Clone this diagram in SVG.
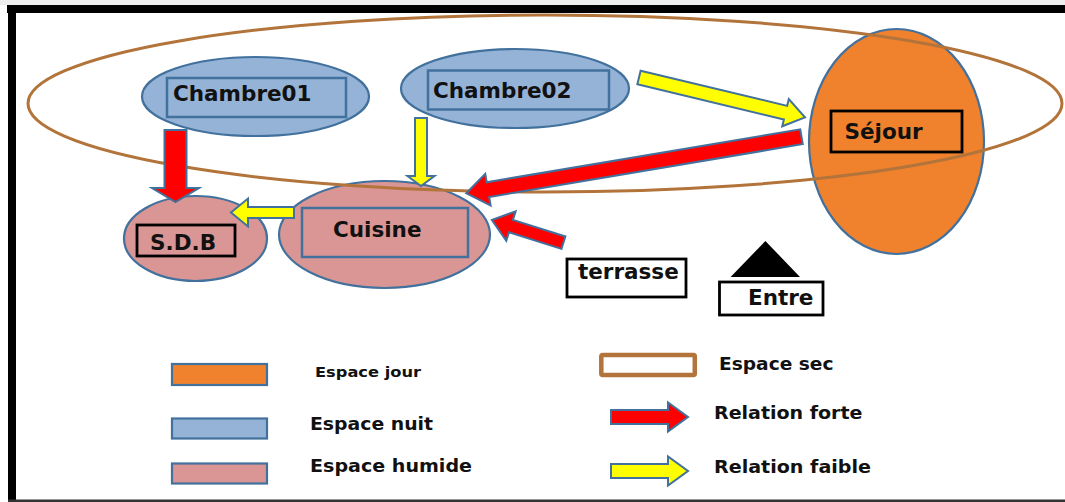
<svg xmlns="http://www.w3.org/2000/svg" width="1065" height="502" viewBox="0 0 1065 502">
<style>
.nuit{fill:#95B3D7;stroke:#41719C;stroke-width:2.2}
.humide{fill:#D99694;stroke:#41719C;stroke-width:2.2}
.jour{fill:#F0822E;stroke:#41719C;stroke-width:2.2}
.bbox{fill:none;stroke:#41719C;stroke-width:2.5}
.kbox{fill:none;stroke:#000;stroke-width:2.8}
.wbox{fill:#fff;stroke:#000;stroke-width:2.8}
.lbl{font-family:"DejaVu Sans",Verdana,sans-serif;font-weight:bold;font-size:21.5px;fill:#111}
.leg{font-family:"DejaVu Sans",Verdana,sans-serif;font-weight:bold;font-size:17px;fill:#111}
.strong{fill:#FF0000;stroke:#41719C;stroke-width:2}
.weak{fill:#FFFF00;stroke:#41719C;stroke-width:2}
.sec{fill:none;stroke:#B2743A;stroke-width:3}
</style>
<rect x="0" y="0" width="1065" height="502" fill="#fff"/>
<rect x="0" y="0" width="1065" height="5" fill="#eee"/>
<g id="frame">
<rect x="7" y="5" width="1058" height="8" fill="#000"/>
<rect x="8" y="5" width="8" height="497" fill="#000"/>
<rect x="8" y="499.5" width="1057" height="2.5" fill="#333"/>
</g>
<g id="chambre01">
<ellipse class="nuit" cx="255.5" cy="96.5" rx="113.5" ry="39.5"/>
<rect class="bbox" x="167" y="78" width="179" height="39"/>
<text class="lbl" x="173" y="101">Chambre01</text>
</g>
<g id="chambre02">
<ellipse class="nuit" cx="515" cy="88.5" rx="114" ry="39.5"/>
<rect class="bbox" x="428" y="70.5" width="181" height="39"/>
<text class="lbl" x="433" y="97.5">Chambre02</text>
</g>
<g id="sejour">
<ellipse class="jour" cx="896.5" cy="141.5" rx="87.5" ry="112.5"/>
<rect class="kbox" x="831" y="111" width="131" height="41"/>
<text class="lbl" x="844.5" y="139">Séjour</text>
</g>
<g id="cuisine">
<ellipse class="humide" cx="384.5" cy="234.5" rx="105.5" ry="53.5"/>
<rect class="bbox" x="302" y="208" width="166" height="49"/>
<text class="lbl" x="333" y="237">Cuisine</text>
</g>
<g id="sdb">
<ellipse class="humide" cx="195.5" cy="238.5" rx="71.5" ry="42.5"/>
<rect class="kbox" x="137" y="225" width="98" height="31"/>
<text class="lbl" x="150" y="250">S.D.B</text>
</g>
<g id="espace-sec">
<ellipse class="sec" cx="545" cy="103.5" rx="517" ry="88.5"/>
</g>
<g id="terrasse">
<rect class="wbox" x="567" y="259" width="119" height="38"/>
<text class="lbl" x="578" y="279">terrasse</text>
</g>
<g id="entre">
<polygon points="765.4,241 800,277 730.6,277" fill="#000"/>
<rect class="wbox" x="719.5" y="282" width="103.5" height="33"/>
<text class="lbl" x="748" y="305">Entre</text>
</g>
<g id="connectors">
<polygon class="strong" transform="translate(175.5,130) rotate(90)" points="0,-11 58,-11 58,-23.5 72,0 58,23.5 58,11 0,11"/>
<polygon class="weak" transform="translate(421,118) rotate(90)" points="0,-6 58,-6 58,-13.5 68,0 58,13.5 58,6 0,6"/>
<polygon class="weak" transform="translate(294,212.5) rotate(180)" points="0,-5.5 46,-5.5 46,-14 63,0 46,14 46,5.5 0,5.5"/>
<polygon class="weak" transform="translate(639,77.5) rotate(13.5)" points="0,-7 150.7,-7 150.7,-14 170.7,0 150.7,14 150.7,7 0,7"/>
<polygon class="strong" transform="translate(801.5,136.7) rotate(170.42)" points="0,-7.5 318,-7.5 318,-16 340,0 318,16 318,7.5 0,7.5"/>
<polygon class="strong" transform="translate(563.4,242.7) rotate(197.57)" points="0,-6.5 55,-6.5 55,-15.5 75,0 55,15.5 55,6.5 0,6.5"/>
</g>
<g id="legend">
<rect class="jour" x="172" y="364" width="95" height="21"/>
<text class="leg" x="315" y="377" style="font-size:14.5px" textLength="106" lengthAdjust="spacingAndGlyphs">Espace jour</text>
<rect class="nuit" x="172" y="418.5" width="95" height="20"/>
<text class="leg" x="310" y="430" textLength="123" lengthAdjust="spacingAndGlyphs">Espace nuit</text>
<rect class="humide" x="172" y="463.5" width="95" height="20"/>
<text class="leg" x="310" y="472" textLength="162" lengthAdjust="spacingAndGlyphs">Espace humide</text>
<rect x="601.3" y="355" width="93.5" height="20" rx="1.5" fill="#fff" stroke="#B2743A" stroke-width="4.5"/>
<text class="leg" x="719" y="370" style="font-size:17.5px" textLength="114.5" lengthAdjust="spacingAndGlyphs">Espace sec</text>
<polygon class="strong" transform="translate(611,417) " points="0,-7 57,-7 57,-14.5 77,0 57,14.5 57,7 0,7"/>
<text class="leg" x="714" y="419" textLength="148.5" lengthAdjust="spacingAndGlyphs">Relation forte</text>
<polygon class="weak" transform="translate(611,471)" points="0,-7 57,-7 57,-14.5 77,0 57,14.5 57,7 0,7"/>
<text class="leg" x="714" y="473" textLength="157" lengthAdjust="spacingAndGlyphs">Relation faible</text>
</g>
</svg>
